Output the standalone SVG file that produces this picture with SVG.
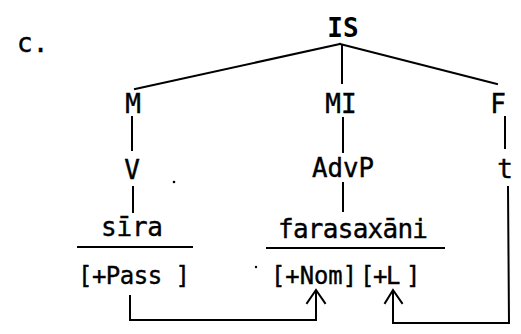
<svg xmlns="http://www.w3.org/2000/svg" width="521" height="334" viewBox="0 0 521 334">
<style>
text{font-family:"DejaVu Sans Mono","Liberation Mono",monospace;font-size:26px;fill:#000;stroke:#000;stroke-width:0.4}
.b{font-weight:bold;font-size:26px;stroke-width:0}
.c{text-anchor:middle}
.s{font-size:24px}
line,polyline{stroke:#000;stroke-width:2;fill:none;stroke-linecap:square}
</style>
<rect width="521" height="334" fill="#fff"/>
<text id="label-c" x="17" y="52">c.</text>
<g id="IS"><text class="b c" x="343" y="37">IS</text></g>
<g id="M"><text class="c" x="133" y="113">M</text></g>
<g id="MI"><text class="c" x="341" y="113">MI</text></g>
<g id="F"><text class="c" x="498" y="113">F</text></g>
<g id="V"><text class="c" x="132" y="179">V</text></g>
<g id="AdvP"><text class="c" x="343" y="177" textLength="62" lengthAdjust="spacingAndGlyphs">AdvP</text></g>
<g id="t"><text class="c" x="505" y="178">t</text></g>
<g id="sira"><text class="c" x="132" y="236" textLength="62" lengthAdjust="spacing">sīra</text><line x1="78" y1="247" x2="192" y2="247"/></g>
<g id="farasaxani"><text class="c" x="353" y="238" textLength="150" lengthAdjust="spacing">farasaxāni</text><line x1="267" y1="248" x2="444" y2="248"/></g>
<g id="pass"><text class="c s" x="134" y="284" textLength="112" lengthAdjust="spacing">[+Pass ]</text></g>
<g id="nom"><text class="c s" x="314" y="284" textLength="86" lengthAdjust="spacingAndGlyphs">[+Nom]</text></g>
<g id="L"><text class="s" x="360 373 386 406" y="284">[+L]</text></g>
<g id="connectors">
<line x1="340" y1="44" x2="135" y2="89"/>
<line x1="340" y1="44" x2="497" y2="84"/>
<line x1="342" y1="46" x2="342" y2="83"/>
<line x1="132" y1="117" x2="132" y2="150"/>
<line x1="343" y1="118" x2="343" y2="152"/>
<line x1="505" y1="117" x2="505" y2="148"/>
<line x1="133" y1="187" x2="133" y2="212"/>
<line x1="343" y1="183" x2="343" y2="211"/>
<polyline points="130,296 130,320 316,320 316,291"/>
<polyline points="307,303 316,290 325,303"/>
<polyline points="508,187 509,323 393,323 393,292"/>
<polyline points="385,303 393,290 402,303"/>
</g>
<circle cx="174" cy="182" r="1.3" fill="#000"/>
<circle cx="256" cy="267" r="1.2" fill="#000"/>
</svg>
